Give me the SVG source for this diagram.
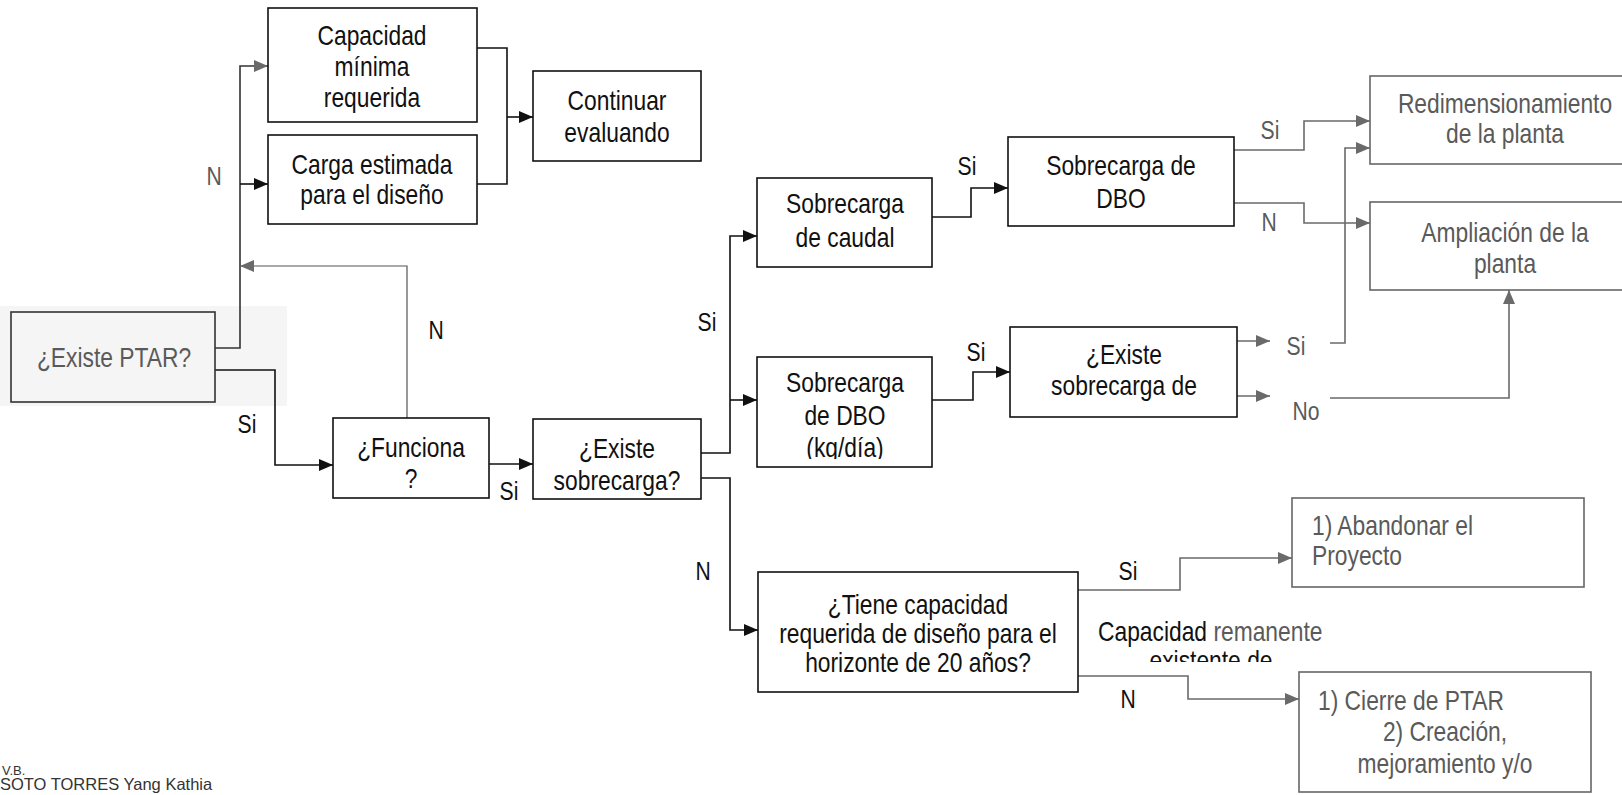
<svg xmlns="http://www.w3.org/2000/svg" width="1622" height="795" viewBox="0 0 1622 795">
<style>
.t{font-family:"Liberation Sans",Arial,sans-serif;font-size:27px;text-anchor:middle;fill:#111}
.ts{text-anchor:start}
.l{font-size:25px}
.g{fill:#5a5a5a}
.box{fill:#fff;stroke:#111;stroke-width:1.6}
.gbox{fill:none;stroke:#666;stroke-width:1.6}
.ln{fill:none;stroke:#111;stroke-width:1.6}
.dl{fill:none;stroke:#333;stroke-width:1.6}
.gl{fill:none;stroke:#6a6a6a;stroke-width:1.6}
.thin{fill:none;stroke:#555;stroke-width:1.2}
.sig{font-family:"Liberation Sans",Arial,sans-serif;fill:#333}
</style>
<defs>
<marker id="ab" markerUnits="userSpaceOnUse" markerWidth="14" markerHeight="12" refX="14" refY="6" orient="auto"><path d="M0,0 L14,6 L0,12 z" fill="#111"/></marker>
<marker id="ag" markerUnits="userSpaceOnUse" markerWidth="14" markerHeight="12" refX="14" refY="6" orient="auto"><path d="M0,0 L14,6 L0,12 z" fill="#6a6a6a"/></marker>
<clipPath id="ckg"><rect x="740" y="420" width="200" height="39"/></clipPath>
<clipPath id="cex"><rect x="1080" y="600" width="260" height="62"/></clipPath>
</defs>
<rect x="0" y="0" width="1622" height="795" fill="#fff"/>
<rect x="0" y="306" width="287" height="100" fill="#f5f5f5"/>

<g id="connectors">
<path class="dl" d="M215,348 H240 V66 H268" marker-end="url(#ag)"/>
<path class="ln" d="M240,184 H268" marker-end="url(#ab)"/>
<path class="thin" d="M407,418 V266 H240" marker-end="url(#ag)"/>
<path class="ln" d="M215,370 H275 V465 H333" marker-end="url(#ab)"/>
<path class="ln" d="M477,48 H507 V184 H477"/>
<path class="ln" d="M507,117 H533" marker-end="url(#ab)"/>
<path class="ln" d="M489,464 H533" marker-end="url(#ab)"/>
<path class="ln" d="M701,453 H730 V236 H757" marker-end="url(#ab)"/>
<path class="ln" d="M730,400 H757" marker-end="url(#ab)"/>
<path class="ln" d="M701,478 H730 V630 H758" marker-end="url(#ab)"/>
<path class="ln" d="M932,217 H971 V188 H1008" marker-end="url(#ab)"/>
<path class="ln" d="M932,400 H973 V372 H1010" marker-end="url(#ab)"/>
<path class="gl" d="M1234,150 H1304 V121 H1370" marker-end="url(#ag)"/>
<path class="gl" d="M1234,203 H1304 V223 H1370" marker-end="url(#ag)"/>
<path class="gl" d="M1237,341 H1270" marker-end="url(#ag)"/>
<path class="gl" d="M1330,343 H1345 V148 H1370" marker-end="url(#ag)"/>
<path class="gl" d="M1237,396 H1270" marker-end="url(#ag)"/>
<path class="gl" d="M1330,398 H1509 V290" marker-end="url(#ag)"/>
<path class="gl" d="M1078,590 H1180 V558 H1292" marker-end="url(#ag)"/>
<path class="gl" d="M1078,676 H1188 V699 H1299" marker-end="url(#ag)"/>
</g>

<g id="labels">
<text class="t l g" transform="translate(214,185) scale(.845 1)">N</text>
<text class="t l" transform="translate(436,339) scale(.845 1)">N</text>
<text class="t l" transform="translate(247,433) scale(.845 1)">Si</text>
<text class="t l" transform="translate(509,500) scale(.845 1)">Si</text>
<text class="t l" transform="translate(707,331) scale(.845 1)">Si</text>
<text class="t l" transform="translate(703,580) scale(.845 1)">N</text>
<text class="t l" transform="translate(967,175) scale(.845 1)">Si</text>
<text class="t l" transform="translate(976,361) scale(.845 1)">Si</text>
<text class="t l g" transform="translate(1270,139) scale(.845 1)">Si</text>
<text class="t l g" transform="translate(1269,231) scale(.845 1)">N</text>
<text class="t l g" transform="translate(1296,355) scale(.845 1)">Si</text>
<text class="t l g" transform="translate(1306,420) scale(.845 1)">No</text>
<text class="t l" transform="translate(1128,580) scale(.845 1)">Si</text>
<text class="t l" transform="translate(1128,708) scale(.845 1)">N</text>
<text class="t ts" transform="translate(1098,641) scale(.845 1)">Capacidad <tspan class="g">remanente</tspan></text>
<g clip-path="url(#cex)"><text class="t" transform="translate(1211,670) scale(.845 1)">existente de</text></g>
</g>

<g id="n-capacidad">
<rect class="box" x="268" y="8" width="209" height="114"/>
<text class="t" transform="translate(372,45) scale(.845 1)">Capacidad</text>
<text class="t" transform="translate(372,76) scale(.845 1)">mínima</text>
<text class="t" transform="translate(372,107) scale(.845 1)">requerida</text>
</g>
<g id="n-carga">
<rect class="box" x="268" y="135" width="209" height="89"/>
<text class="t" transform="translate(372,174) scale(.845 1)">Carga estimada</text>
<text class="t" transform="translate(372,204) scale(.845 1)">para el diseño</text>
</g>
<g id="n-continuar">
<rect class="box" x="533" y="71" width="168" height="90"/>
<text class="t" transform="translate(617,110) scale(.845 1)">Continuar</text>
<text class="t" transform="translate(617,142) scale(.845 1)">evaluando</text>
</g>
<g id="n-ptar">
<rect fill="none" stroke="#333" stroke-width="1.6" x="11" y="312" width="204" height="90"/>
<text class="t g" transform="translate(114,367) scale(.845 1)">¿Existe PTAR?</text>
</g>
<g id="n-funciona">
<rect class="box" x="333" y="418" width="156" height="80"/>
<text class="t" transform="translate(411,457) scale(.845 1)">¿Funciona</text>
<text class="t" transform="translate(411,488) scale(.845 1)">?</text>
</g>
<g id="n-sobrecarga">
<rect class="box" x="533" y="419" width="168" height="80"/>
<text class="t" transform="translate(617,458) scale(.845 1)">¿Existe</text>
<text class="t" transform="translate(617,490) scale(.845 1)">sobrecarga?</text>
</g>
<g id="n-caudal">
<rect class="box" x="757" y="178" width="175" height="89"/>
<text class="t" transform="translate(845,213) scale(.845 1)">Sobrecarga</text>
<text class="t" transform="translate(845,247) scale(.845 1)">de caudal</text>
</g>
<g id="n-dbo-kg">
<rect class="box" x="757" y="357" width="175" height="110"/>
<text class="t" transform="translate(845,392) scale(.845 1)">Sobrecarga</text>
<text class="t" transform="translate(845,425) scale(.845 1)">de DBO</text>
<g clip-path="url(#ckg)"><text class="t" transform="translate(845,457) scale(.845 1)">(kg/día)</text></g>
</g>
<g id="n-dbo">
<rect class="box" x="1008" y="137" width="226" height="89"/>
<text class="t" transform="translate(1121,175) scale(.845 1)">Sobrecarga de</text>
<text class="t" transform="translate(1121,208) scale(.845 1)">DBO</text>
</g>
<g id="n-existe-dbo">
<rect class="box" x="1010" y="327" width="227" height="90"/>
<text class="t" transform="translate(1124,364) scale(.845 1)">¿Existe</text>
<text class="t" transform="translate(1124,395) scale(.845 1)">sobrecarga de</text>
</g>
<g id="n-tiene">
<rect class="box" x="758" y="572" width="320" height="120"/>
<text class="t" transform="translate(918,614) scale(.845 1)">¿Tiene capacidad</text>
<text class="t" transform="translate(918,643) scale(.845 1)">requerida de diseño para el</text>
<text class="t" transform="translate(918,672) scale(.845 1)">horizonte de 20 años?</text>
</g>
<g id="n-redim">
<rect class="gbox" x="1370" y="76" width="270" height="88"/>
<text class="t g" transform="translate(1505,113) scale(.845 1)">Redimensionamiento</text>
<text class="t g" transform="translate(1505,143) scale(.845 1)">de la planta</text>
</g>
<g id="n-ampliacion">
<rect class="gbox" x="1370" y="202" width="270" height="88"/>
<text class="t g" transform="translate(1505,242) scale(.845 1)">Ampliación de la</text>
<text class="t g" transform="translate(1505,273) scale(.845 1)">planta</text>
</g>
<g id="n-abandonar">
<rect class="gbox" x="1292" y="498" width="292" height="89"/>
<text class="t ts g" transform="translate(1312,535) scale(.845 1)">1) Abandonar el</text>
<text class="t ts g" transform="translate(1312,565) scale(.845 1)">Proyecto</text>
</g>
<g id="n-cierre">
<rect class="gbox" x="1299" y="672" width="292" height="120"/>
<text class="t ts g" transform="translate(1318,710) scale(.845 1)">1) Cierre de PTAR</text>
<text class="t g" transform="translate(1445,741) scale(.845 1)">2) Creación,</text>
<text class="t g" transform="translate(1445,773) scale(.845 1)">mejoramiento y/o</text>
</g>

<text class="sig" x="2" y="775" font-size="13">V.B.</text>
<text class="sig" x="0" y="790" font-size="16.5">SOTO TORRES Yang Kathia</text>
</svg>
